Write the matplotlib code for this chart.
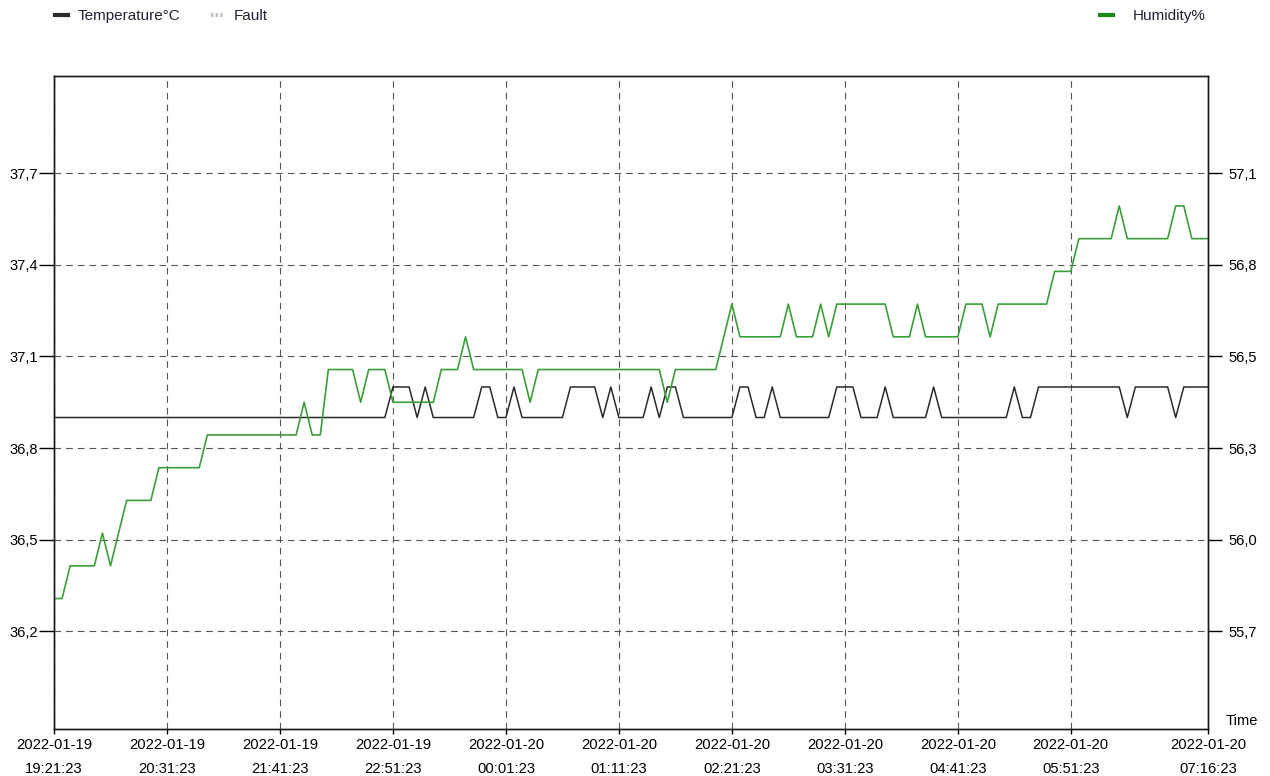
import matplotlib
matplotlib.use('Agg')
import matplotlib.pyplot as plt
import matplotlib.dates as mdates
import numpy as np

plt.rcParams['font.family'] = ['Liberation Sans', 'DejaVu Sans']

# samples every 5 minutes from 2022-01-19 19:21:23
start_time = np.datetime64('2022-01-19T19:21:23')
n_samples = 144
times = start_time + np.arange(n_samples) * np.timedelta64(5, 'm')

temperature = [
    36.9, 36.9, 36.9, 36.9, 36.9, 36.9, 36.9, 36.9, 36.9, 36.9, 36.9, 36.9,
    36.9, 36.9, 36.9, 36.9, 36.9, 36.9, 36.9, 36.9, 36.9, 36.9, 36.9, 36.9,
    36.9, 36.9, 36.9, 36.9, 36.9, 36.9, 36.9, 36.9, 36.9, 36.9, 36.9, 36.9,
    36.9, 36.9, 36.9, 36.9, 36.9, 36.9, 37.0, 37.0, 37.0, 36.9, 37.0, 36.9,
    36.9, 36.9, 36.9, 36.9, 36.9, 37.0, 37.0, 36.9, 36.9, 37.0, 36.9, 36.9,
    36.9, 36.9, 36.9, 36.9, 37.0, 37.0, 37.0, 37.0, 36.9, 37.0, 36.9, 36.9,
    36.9, 36.9, 37.0, 36.9, 37.0, 37.0, 36.9, 36.9, 36.9, 36.9, 36.9, 36.9,
    36.9, 37.0, 37.0, 36.9, 36.9, 37.0, 36.9, 36.9, 36.9, 36.9, 36.9, 36.9,
    36.9, 37.0, 37.0, 37.0, 36.9, 36.9, 36.9, 37.0, 36.9, 36.9, 36.9, 36.9,
    36.9, 37.0, 36.9, 36.9, 36.9, 36.9, 36.9, 36.9, 36.9, 36.9, 36.9, 37.0,
    36.9, 36.9, 37.0, 37.0, 37.0, 37.0, 37.0, 37.0, 37.0, 37.0, 37.0, 37.0,
    37.0, 36.9, 37.0, 37.0, 37.0, 37.0, 37.0, 36.9, 37.0, 37.0, 37.0, 37.0,
]

humidity = [
    55.8, 55.8, 55.9, 55.9, 55.9, 55.9, 56.0, 55.9, 56.0, 56.1, 56.1, 56.1,
    56.1, 56.2, 56.2, 56.2, 56.2, 56.2, 56.2, 56.3, 56.3, 56.3, 56.3, 56.3,
    56.3, 56.3, 56.3, 56.3, 56.3, 56.3, 56.3, 56.4, 56.3, 56.3, 56.5, 56.5,
    56.5, 56.5, 56.4, 56.5, 56.5, 56.5, 56.4, 56.4, 56.4, 56.4, 56.4, 56.4,
    56.5, 56.5, 56.5, 56.6, 56.5, 56.5, 56.5, 56.5, 56.5, 56.5, 56.5, 56.4,
    56.5, 56.5, 56.5, 56.5, 56.5, 56.5, 56.5, 56.5, 56.5, 56.5, 56.5, 56.5,
    56.5, 56.5, 56.5, 56.5, 56.4, 56.5, 56.5, 56.5, 56.5, 56.5, 56.5, 56.6,
    56.7, 56.6, 56.6, 56.6, 56.6, 56.6, 56.6, 56.7, 56.6, 56.6, 56.6, 56.7,
    56.6, 56.7, 56.7, 56.7, 56.7, 56.7, 56.7, 56.7, 56.6, 56.6, 56.6, 56.7,
    56.6, 56.6, 56.6, 56.6, 56.6, 56.7, 56.7, 56.7, 56.6, 56.7, 56.7, 56.7,
    56.7, 56.7, 56.7, 56.7, 56.8, 56.8, 56.8, 56.9, 56.9, 56.9, 56.9, 56.9,
    57.0, 56.9, 56.9, 56.9, 56.9, 56.9, 56.9, 57.0, 57.0, 56.9, 56.9, 56.9,
]

temp_ticks = [36.2, 36.5, 36.8, 37.1, 37.4, 37.7]
temp_labels = ['36,2', '36,5', '36,8', '37,1', '37,4', '37,7']
hum_ticks = [55.7, 55.98, 56.26, 56.54, 56.82, 57.1]
hum_labels = ['55,7', '56,0', '56,3', '56,5', '56,8', '57,1']

t_lo, t_hi = 35.88, 38.02
fs_tick = 10.6
fs_leg = 11


def temp_to_hum(v):
    return 55.7 + (v - 36.2) * 0.28 / 0.3


fig = plt.figure(figsize=(12.7, 7.76), dpi=100)
ax = fig.add_axes([54 / 1270, 1 - 729 / 776, 1154 / 1270, 653.5 / 776])
ax2 = ax.twinx()

ax.plot(times, temperature, color='#2a2a2a', lw=1.1, label='Temperature°C')
ax.plot([], [], color='#c4c4c4', lw=3, ls=(0, (0.6, 0.5)), label='Fault')
ax2.plot(times, humidity, color='#3a9e3a', lw=1.2, label='Humidity%')

end_time = times[-1]
xticks = [start_time + k * np.timedelta64(70, 'm') for k in range(10)] + [end_time]
ax.set_xlim(start_time, end_time)
ax.set_xticks(xticks)
ax.xaxis.set_major_formatter(mdates.DateFormatter('%Y-%m-%d\n%H:%M:%S'))
for lab in ax.get_xticklabels():
    lab.set_linespacing(1.85)

ax.set_ylim(t_lo, t_hi)
ax.set_yticks(temp_ticks)
ax.set_yticklabels(temp_labels)
ax2.set_ylim(temp_to_hum(t_lo), temp_to_hum(t_hi))
ax2.set_yticks(hum_ticks)
ax2.set_yticklabels(hum_labels)

ax.tick_params(axis='x', direction='out', length=3.6, width=1, pad=3.0, labelsize=fs_tick)
ax.tick_params(axis='y', direction='out', length=10.5, width=1, pad=0.8, labelsize=fs_tick)
ax2.tick_params(axis='y', direction='out', length=10, width=1, pad=5, labelsize=fs_tick)

ax.grid(True, color='#555555', lw=0.8, ls=(0, (6, 4.5)))
for sp in list(ax.spines.values()) + list(ax2.spines.values()):
    sp.set_color('#1a1a1a')
    sp.set_linewidth(1)

fig.text(1226 / 1270, 1 - 721 / 776, 'Time', fontsize=fs_tick, va='center', ha='left')

h1, l1 = ax.get_legend_handles_labels()
leg1 = fig.legend(h1, l1, loc='center left', bbox_to_anchor=(55 / 1270, 1 - 16 / 776),
                  ncol=2, frameon=False, fontsize=fs_leg, handlelength=0.85,
                  handletextpad=0.65, columnspacing=2.0, borderpad=0, borderaxespad=0)
h2, l2 = ax2.get_legend_handles_labels()
leg2 = fig.legend(h2, l2, loc='center left', bbox_to_anchor=(1100 / 1270, 1 - 16 / 776),
                  frameon=False, fontsize=fs_leg, handlelength=0.85,
                  handletextpad=1.3, borderpad=0, borderaxespad=0)
for leg in (leg1, leg2):
    for line in leg.get_lines():
        line.set_linewidth(3)
leg2.get_lines()[0].set_color('#1a8a1a')
for t in leg1.get_texts() + leg2.get_texts():
    t.set_color('#222233')

fig.savefig('out.png', dpi=100)
